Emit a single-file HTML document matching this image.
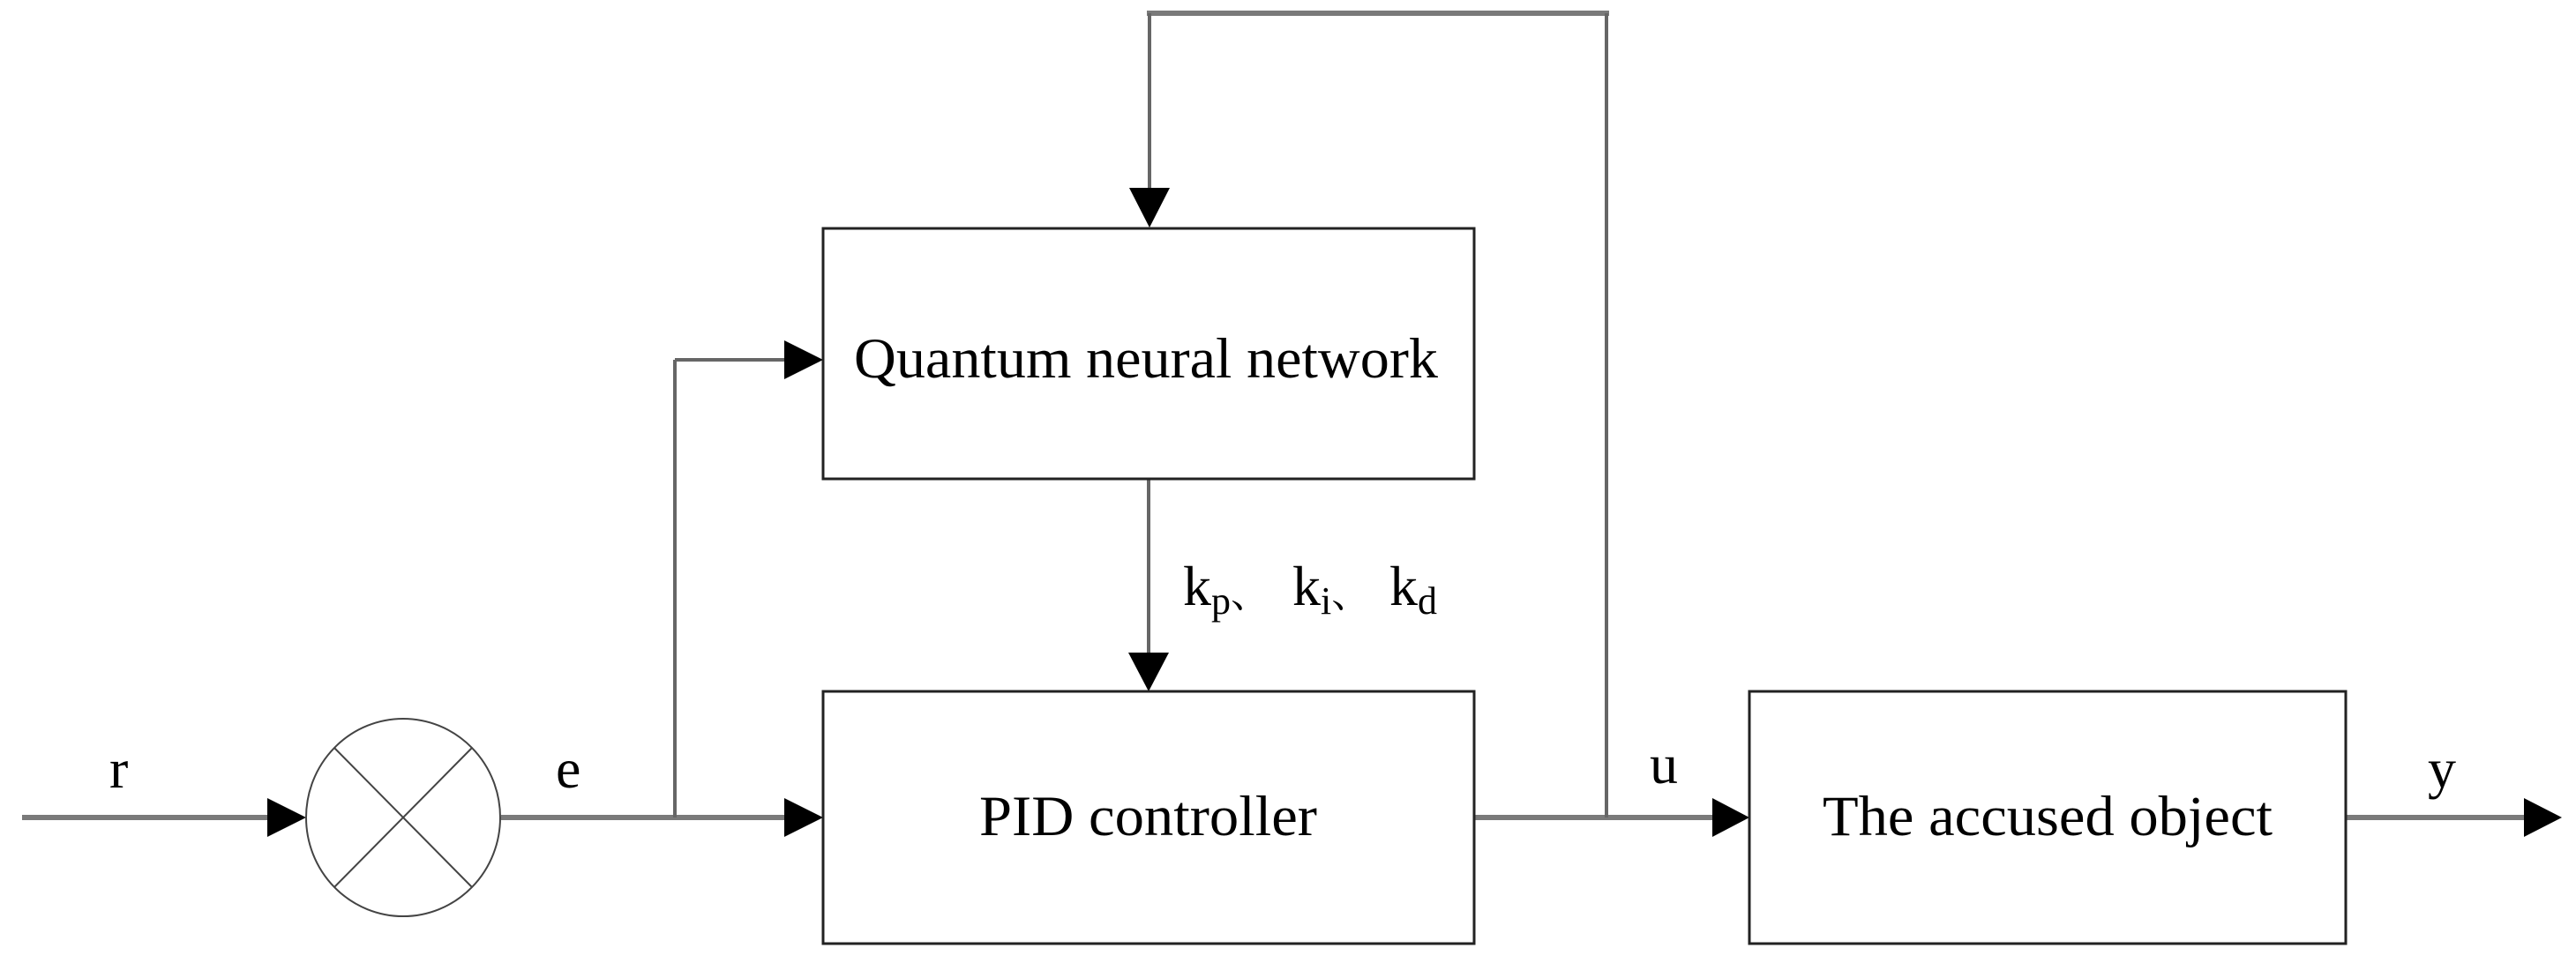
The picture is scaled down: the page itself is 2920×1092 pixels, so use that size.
<!DOCTYPE html>
<html><head><meta charset="utf-8"><style>
html,body{margin:0;padding:0;background:#fff;}
svg{display:block;}
text{font-family:"Liberation Serif","Noto Serif CJK SC",serif;fill:#000;}
</style></head><body>
<svg width="2920" height="1092" viewBox="0 0 2920 1092" xmlns="http://www.w3.org/2000/svg">
<g stroke="#7a7a7a" stroke-width="6" fill="none">
<line x1="25" y1="927" x2="305" y2="927"/>
<line x1="568" y1="927" x2="895" y2="927"/>
<line x1="1671" y1="927" x2="1945" y2="927"/>
<line x1="2659" y1="927" x2="2865" y2="927"/>
<line x1="1300" y1="15" x2="1824" y2="15"/>
</g>
<g stroke="#666" stroke-width="4" fill="none">
<line x1="765" y1="927" x2="765" y2="408"/>
<line x1="765" y1="408" x2="895" y2="408"/>
<line x1="1303" y1="15" x2="1303" y2="215"/>
<line x1="1821" y1="15" x2="1821" y2="927"/>
<line x1="1302" y1="543" x2="1302" y2="740"/>
</g>
<g fill="#000">
<polygon points="303,905 347,927 303,949"/>
<polygon points="889,386 933,408 889,430"/>
<polygon points="889,905 933,927 889,949"/>
<polygon points="1280,213 1326,213 1303,258"/>
<polygon points="1279,740 1325,740 1302,784"/>
<polygon points="1941,905 1983,927 1941,949"/>
<polygon points="2861,905 2904,927 2861,949"/>
</g>
<g stroke="#222" stroke-width="3" fill="#fff">
<rect x="933" y="259" width="738" height="284"/>
<rect x="933" y="784" width="738" height="286"/>
<rect x="1983" y="784" width="676" height="286"/>
</g>
<g stroke="#444" stroke-width="2" fill="none">
<ellipse cx="457" cy="927" rx="110" ry="112"/>
<line x1="379" y1="848" x2="535" y2="1006"/>
<line x1="535" y1="848" x2="379" y2="1006"/>
</g>
<text x="968" y="428" font-size="65" textLength="662" lengthAdjust="spacingAndGlyphs">Quantum neural network</text>
<text x="1110" y="947" font-size="65" textLength="383" lengthAdjust="spacingAndGlyphs">PID controller</text>
<text x="2066" y="947" font-size="65" textLength="510" lengthAdjust="spacingAndGlyphs">The accused object</text>
<text x="124" y="893" font-size="64">r</text>
<text x="630" y="893" font-size="64">e</text>
<text x="1870" y="888" font-size="64">u</text>
<text x="2752" y="893" font-size="64">y</text>
<text x="1341" y="686" font-size="64">k<tspan font-size="44" dy="10">p</tspan><tspan dy="-8" font-size="44">、</tspan></text>
<text x="1465" y="686" font-size="64">k<tspan font-size="44" dy="10">i</tspan><tspan dy="-8" font-size="44">、</tspan></text>
<text x="1575" y="686" font-size="64">k<tspan font-size="44" dy="10">d</tspan></text>
</svg>
</body></html>
